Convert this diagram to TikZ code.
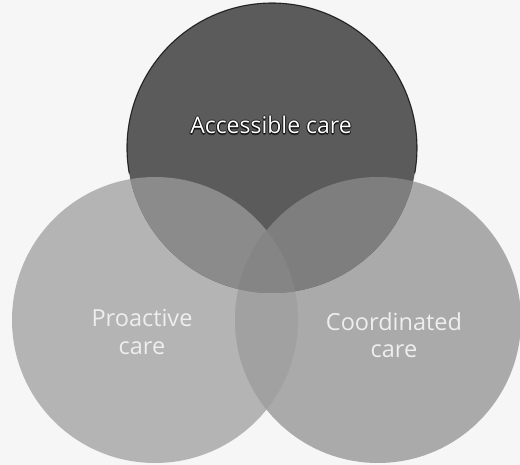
\documentclass[tikz,border=0pt]{standalone}
\usepackage{fontspec}
\setmainfont{Open Sans}
\usetikzlibrary{calc}
\definecolor{bg}{HTML}{F6F6F6}
\definecolor{cT}{HTML}{5B5B5B}
\definecolor{cL}{HTML}{B4B4B4}
\definecolor{cR}{HTML}{AAAAAA}
\definecolor{cTL}{HTML}{8B8B8B}
\definecolor{cTR}{HTML}{7E7E7E}
\definecolor{cLR}{HTML}{A1A1A1}
\definecolor{cTLR}{HTML}{858585}
\definecolor{txtlight}{HTML}{EEEEEE}
\tikzset{
  lbl/.style={font=\fontsize{23.5}{28}\selectfont, text=txtlight, align=center, inner sep=0pt},
  toplbl/.style={font=\fontsize{23}{28}\selectfont, text=white, inner sep=0pt},
  halo/.style={font=\fontsize{23}{28}\selectfont, text=black, inner sep=0pt, opacity=0.5},
}
\begin{document}
\begin{tikzpicture}[x=1pt,y=-1pt]
  \useasboundingbox (0,0) rectangle (520,465);
  \fill[bg] (0,0) rectangle (520,465);
  \coordinate (cT) at (272,148);
  \coordinate (cL) at (155,320);
  \coordinate (cR) at (378,320);
  \def\rT{145pt}
  \def\rL{143pt}
  \def\rR{143pt}
  % single circles
  \fill[cL] (cL) circle[radius=\rL];
  \fill[cR] (cR) circle[radius=\rR];
  \fill[cT] (cT) circle[radius=\rT];
  % pairwise overlaps
  \begin{scope}
    \clip (cL) circle[radius=\rL];
    \fill[cLR] (cR) circle[radius=\rR];
  \end{scope}
  \begin{scope}
    \clip (cT) circle[radius=\rT];
    \fill[cTL] (cL) circle[radius=\rL];
    \fill[cTR] (cR) circle[radius=\rR];
    \clip (cL) circle[radius=\rL];
    \fill[cTLR] (cR) circle[radius=\rR];
  \end{scope}
  % dark outline on the upper part of the top circle
  \draw[black, line width=1.1pt, opacity=0.75] ([shift={(190:\rT)}]cT) arc[start angle=190, end angle=-10, radius=\rT];
  % labels
  \foreach \dx/\dy in {-1/0,1/0,0/-1,0/1.2,0.8/0.8,-0.8/0.8}{
    \node[halo, anchor=base] at ($(271,134)+(\dx,\dy)$) {Accessible care};
  }
  \node[toplbl, anchor=base] (tA) at (271,134) {Accessible care};
  \node[lbl, anchor=base] (tP) at (142,355) {Proactive\\care};
  \node[lbl, anchor=base] (tC) at (394,358) {Coordinated\\care};
\end{tikzpicture}
\end{document}
